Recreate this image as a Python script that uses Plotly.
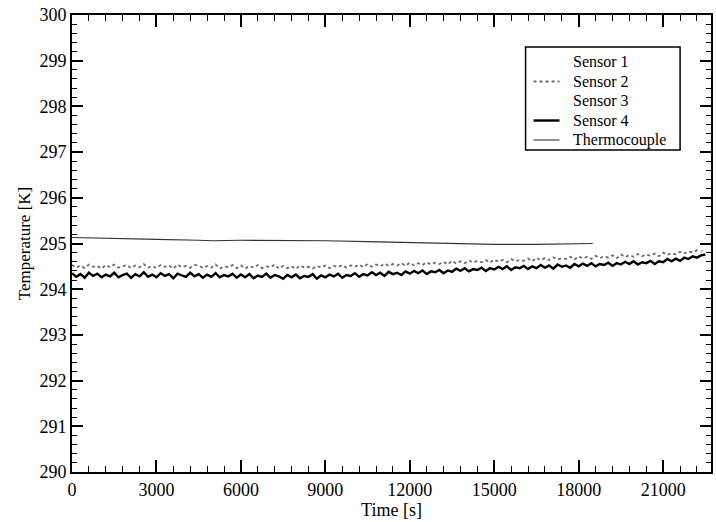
import plotly.graph_objects as go

# Sample times (s) for the temperature sensors
t_fast = list(range(0, 22501, 150))   # sensors 2 and 4
t_slow = list(range(0, 22501, 300))   # sensors 1 and 3

sensor4 = [
    294.35, 294.27, 294.33, 294.25, 294.36, 294.29, 294.34, 294.26, 294.32, 294.28,
    294.36, 294.26, 294.31, 294.34, 294.25, 294.33, 294.28, 294.37, 294.27, 294.32,
    294.26, 294.35, 294.29, 294.33, 294.24, 294.34, 294.30, 294.27, 294.36, 294.28,
    294.33, 294.25, 294.32, 294.27, 294.35, 294.26, 294.31, 294.28, 294.34, 294.25,
    294.32, 294.26, 294.33, 294.24, 294.30, 294.27, 294.34, 294.25, 294.31, 294.28,
    294.23, 294.31, 294.26, 294.32, 294.24, 294.29, 294.27, 294.33, 294.23, 294.30,
    294.26, 294.32, 294.28, 294.34, 294.25, 294.31, 294.29, 294.35, 294.27, 294.33,
    294.30, 294.37, 294.31, 294.36, 294.29, 294.38, 294.33, 294.36, 294.31, 294.39,
    294.34, 294.40, 294.35, 294.41, 294.33, 294.39, 294.37, 294.42, 294.35, 294.41,
    294.38, 294.45, 294.40, 294.46, 294.39, 294.44, 294.42, 294.47, 294.40, 294.46,
    294.43, 294.49, 294.44, 294.50, 294.42, 294.48, 294.46, 294.51, 294.44, 294.50,
    294.46, 294.53, 294.47, 294.52, 294.45, 294.54, 294.49, 294.52, 294.47, 294.55,
    294.50, 294.56, 294.51, 294.57, 294.50, 294.55, 294.53, 294.58, 294.51, 294.57,
    294.54, 294.60, 294.55, 294.61, 294.54, 294.59, 294.57, 294.62, 294.55, 294.61,
    294.59, 294.66, 294.61, 294.67, 294.62, 294.69, 294.66, 294.72, 294.69, 294.74,
    294.76,
]

sensor2 = [
    294.53, 294.47, 294.52, 294.46, 294.54, 294.49, 294.51, 294.45, 294.53, 294.48,
    294.54, 294.47, 294.50, 294.53, 294.46, 294.52, 294.48, 294.55, 294.47, 294.51,
    294.46, 294.53, 294.49, 294.52, 294.45, 294.54, 294.48, 294.51, 294.47, 294.53,
    294.52, 294.46, 294.51, 294.47, 294.54, 294.45, 294.50, 294.48, 294.53, 294.46,
    294.52, 294.45, 294.51, 294.47, 294.53, 294.46, 294.50, 294.48, 294.54, 294.45,
    294.51, 294.46, 294.50, 294.44, 294.52, 294.47, 294.49, 294.45, 294.51, 294.47,
    294.52, 294.46, 294.51, 294.48, 294.53, 294.47, 294.52, 294.49, 294.54, 294.48,
    294.55, 294.49, 294.54, 294.50, 294.56, 294.51, 294.55, 294.52, 294.57, 294.51,
    294.58, 294.52, 294.57, 294.53, 294.59, 294.54, 294.58, 294.55, 294.60, 294.54,
    294.62, 294.56, 294.61, 294.57, 294.63, 294.58, 294.62, 294.59, 294.64, 294.58,
    294.65, 294.60, 294.64, 294.59, 294.66, 294.61, 294.64, 294.62, 294.67, 294.61,
    294.69, 294.63, 294.68, 294.64, 294.70, 294.65, 294.68, 294.66, 294.71, 294.65,
    294.72, 294.67, 294.71, 294.66, 294.73, 294.68, 294.72, 294.69, 294.74, 294.68,
    294.76, 294.70, 294.75, 294.71, 294.77, 294.72, 294.76, 294.73, 294.78, 294.72,
    294.80, 294.75, 294.79, 294.76, 294.82, 294.78, 294.83, 294.80, 294.85, 294.82,
    294.87,
]

sensor1 = [
    294.46, 294.42, 294.45, 294.41, 294.47, 294.43, 294.44, 294.40, 294.46, 294.42,
    294.45, 294.41, 294.47, 294.42, 294.44, 294.40, 294.46, 294.43, 294.45, 294.41,
    294.45, 294.40, 294.44, 294.41, 294.46, 294.42, 294.43, 294.39, 294.45, 294.41,
    294.46, 294.42, 294.45, 294.43, 294.48, 294.44, 294.47, 294.45, 294.50, 294.46,
    294.51, 294.48, 294.53, 294.49, 294.54, 294.51, 294.56, 294.52, 294.57, 294.54,
    294.58, 294.55, 294.60, 294.57, 294.61, 294.58, 294.63, 294.60, 294.64, 294.61,
    294.65, 294.62, 294.67, 294.64, 294.68, 294.65, 294.70, 294.67, 294.71, 294.68,
    294.73, 294.71, 294.76, 294.74, 294.78, 294.80,
]

sensor3 = [
    294.40, 294.36, 294.39, 294.35, 294.41, 294.37, 294.38, 294.34, 294.40, 294.36,
    294.39, 294.35, 294.41, 294.36, 294.38, 294.34, 294.40, 294.37, 294.39, 294.35,
    294.38, 294.34, 294.37, 294.33, 294.39, 294.35, 294.36, 294.32, 294.38, 294.34,
    294.37, 294.35, 294.39, 294.37, 294.42, 294.39, 294.43, 294.40, 294.45, 294.42,
    294.45, 294.43, 294.48, 294.46, 294.50, 294.48, 294.52, 294.50, 294.54, 294.52,
    294.55, 294.53, 294.57, 294.55, 294.58, 294.56, 294.60, 294.58, 294.62, 294.60,
    294.62, 294.60, 294.64, 294.62, 294.66, 294.64, 294.68, 294.66, 294.70, 294.68,
    294.71, 294.70, 294.75, 294.76, 294.80, 294.83,
]

# Reference thermocouple (logged until ~18500 s)
t_tc = [0, 600, 1500, 3000, 4500, 5000, 6000, 7500, 9000, 10500, 12000,
        13500, 15000, 16500, 17500, 18500]
thermocouple = [295.13, 295.12, 295.10, 295.09, 295.07, 295.06, 295.07, 295.07,
                295.06, 295.04, 295.02, 294.99, 294.98, 294.98, 294.99, 295.00]

x_ticks = [0, 3000, 6000, 9000, 12000, 15000, 18000, 21000]
x_tick_labels = ["0", "3000", "6000", "9000", "12000", "15000", "18000", "21000"]
y_ticks = list(range(290, 301))
y_tick_labels = [str(v) for v in y_ticks]

series_names = ["Sensor 1", "Sensor 2", "Sensor 3", "Sensor 4", "Thermocouple"]
series_styles = [
    dict(color="white", width=1),
    dict(color="#6a6a6a", width=1.8, dash="dot"),
    dict(color="white", width=1),
    dict(color="black", width=2.4),
    dict(color="#333333", width=1.1),
]
series_x = [t_slow, t_fast, t_slow, t_fast, t_tc]
series_y = [sensor1, sensor2, sensor3, sensor4, thermocouple]

FONT = "Liberation Serif"
W, H = 716, 522
M_L, M_R, M_T, M_B = 72, 3, 15, 50
PW, PH = W - M_L - M_R, H - M_T - M_B

fig = go.Figure()
for name, xs, ys, style in zip(series_names, series_x, series_y, series_styles):
    fig.add_trace(go.Scatter(x=xs, y=ys, mode="lines", name=name,
                             line=style, showlegend=False))

axis_common = dict(
    showgrid=False, zeroline=False,
    showline=True, linecolor="black", linewidth=2,
    mirror="ticks", ticks="inside", tickcolor="black", tickwidth=1.5,
    tickfont=dict(family=FONT, size=18, color="black"),
)

fig.update_xaxes(
    range=[0, 22700], tickvals=x_ticks, ticktext=x_tick_labels, ticklen=12,
    minor=dict(dtick=600, tick0=0, ticks="inside", ticklen=6, tickwidth=1.2,
               tickcolor="black"),
    title=dict(text="Time [s]", font=dict(family=FONT, size=18, color="black"),
               standoff=0),
    **axis_common,
)
fig.update_yaxes(
    range=[290, 300], tickvals=y_ticks, ticktext=y_tick_labels, ticklen=11,
    minor=dict(dtick=0.2, tick0=290, ticks="inside", ticklen=5, tickwidth=1.2,
               tickcolor="black"),
    title=dict(text="Temperature [K]", font=dict(family=FONT, size=17, color="black"),
               standoff=4),
    **axis_common,
)


# Legend box drawn in paper space (pixel positions converted to paper fractions)
def px(xp):
    return (xp - M_L) / PW


def py(yp):
    return (H - M_B - yp) / PH


LEG_LINE_FONT = 15          # sets the row pitch (1.3 x font size)
row_gap = LEG_LINE_FONT * 1.3
box_l, box_r, box_t = 527, 682, 47
row_top = 62
box_b = row_top + 4 * row_gap + 10
sample_l, sample_r, text_l = 535, 561, 573

shapes = [dict(type="rect", xref="paper", yref="paper",
               x0=px(box_l), x1=px(box_r), y0=py(box_b), y1=py(box_t),
               line=dict(color="black", width=1.5), fillcolor="white", layer="above")]
for i, style in enumerate(series_styles):
    yy = py(row_top + i * row_gap)
    shapes.append(dict(type="line", xref="paper", yref="paper",
                       x0=px(sample_l), x1=px(sample_r), y0=yy, y1=yy,
                       line=style, layer="above"))

legend_text = "<br>".join(
    f"<span style='font-size:16px'>{name}</span>" for name in series_names)
annotations = [dict(text=legend_text, xref="paper", yref="paper",
                    x=px(text_l), y=py(row_top + 2 * row_gap),
                    xanchor="left", yanchor="middle", align="left",
                    showarrow=False,
                    font=dict(family=FONT, size=LEG_LINE_FONT, color="black"))]

fig.update_layout(
    width=W, height=H,
    margin=dict(l=M_L, r=M_R, t=M_T, b=M_B),
    paper_bgcolor="white", plot_bgcolor="white",
    font=dict(family=FONT, color="black"),
    shapes=shapes, annotations=annotations,
    showlegend=False,
)

fig.write_html("out.html")
